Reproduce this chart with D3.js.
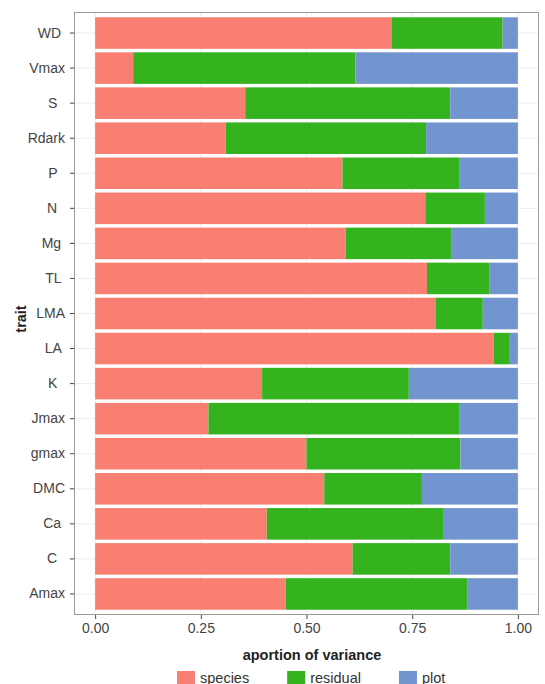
<!DOCTYPE html>
<html>
<head>
<meta charset="utf-8">
<script src="https://cdn.jsdelivr.net/npm/d3@7"></script>
<style>
  body { margin: 0; background: #fff; }
  text { font-family: "Liberation Sans", Arial, sans-serif; }
</style>
</head>
<body>
<div id="chart"></div>
<script>
// traits, top to bottom
var traits = ["WD", "Vmax", "S", "Rdark", "P", "N", "Mg", "TL", "LMA", "LA", "K", "Jmax", "gmax", "DMC", "Ca", "C", "Amax"];
// labels as printed (some carry trailing spaces)
var traitLabels = ["WD ", "Vmax", "S  ", "Rdark", "P  ", "N  ", "Mg ", "TL ", "LMA", "LA ", "K  ", "Jmax", "gmax", "DMC", "Ca ", "C  ", "Amax"];

var species  = [0.702, 0.090, 0.355, 0.309, 0.585, 0.781, 0.593, 0.785, 0.805, 0.943, 0.395, 0.268, 0.500, 0.542, 0.406, 0.609, 0.451];
var residual = [0.262, 0.526, 0.485, 0.474, 0.276, 0.141, 0.249, 0.147, 0.112, 0.036, 0.347, 0.593, 0.364, 0.231, 0.417, 0.231, 0.429];
var plot     = [0.036, 0.384, 0.160, 0.217, 0.139, 0.078, 0.158, 0.068, 0.083, 0.021, 0.258, 0.139, 0.136, 0.227, 0.177, 0.160, 0.120];

var components = ["species", "residual", "plot"];
var colors = ["#f97f72", "#34b31f", "#7295cf"];
var xTicks = [0, 0.25, 0.5, 0.75, 1];

var width = 545, height = 684;
var panel = { left: 74, right: 539, top: 12, bottom: 615 };

var svg = d3.select("#chart")
    .append("svg")
    .attr("width", width)
    .attr("height", height);

var rows = traits.map(function (t, i) {
    return { trait: t, species: species[i], residual: residual[i], plot: plot[i] };
});

var stack = d3.stack().keys(components)(rows);

// ggplot style: 5% expansion around [0,1]
var x = d3.scaleLinear()
    .domain([-0.05, 1.05])
    .range([panel.left, panel.right]);

var y = d3.scaleBand()
    .domain(traits)
    .range([panel.top, panel.bottom])
    .paddingInner(0.1)
    .paddingOuter(0.15);

var color = d3.scaleOrdinal().domain(components).range(colors);

// panel background + grid
svg.append("rect")
    .attr("x", panel.left)
    .attr("y", panel.top)
    .attr("width", panel.right - panel.left)
    .attr("height", panel.bottom - panel.top)
    .attr("fill", "#fff");

svg.append("g")
    .selectAll("line")
    .data(xTicks)
    .enter().append("line")
    .attr("x1", function (d) { return x(d); })
    .attr("x2", function (d) { return x(d); })
    .attr("y1", panel.top)
    .attr("y2", panel.bottom)
    .attr("stroke", "#ececec")
    .attr("stroke-width", 1);

svg.append("g")
    .selectAll("line")
    .data(traits)
    .enter().append("line")
    .attr("x1", panel.left)
    .attr("x2", panel.right)
    .attr("y1", function (d) { return y(d) + y.bandwidth() / 2; })
    .attr("y2", function (d) { return y(d) + y.bandwidth() / 2; })
    .attr("stroke", "#ececec")
    .attr("stroke-width", 1);

// bars
svg.append("g")
    .selectAll("g")
    .data(stack)
    .enter().append("g")
    .attr("fill", function (d) { return color(d.key); })
    .selectAll("rect")
    .data(function (d) { return d; })
    .enter().append("rect")
    .attr("x", function (d) { return x(d[0]); })
    .attr("y", function (d) { return y(d.data.trait); })
    .attr("width", function (d) { return x(d[1]) - x(d[0]); })
    .attr("height", y.bandwidth());

// panel border
svg.append("rect")
    .attr("x", panel.left + 0.5)
    .attr("y", panel.top + 0.5)
    .attr("width", panel.right - panel.left - 1)
    .attr("height", panel.bottom - panel.top - 1)
    .attr("fill", "none")
    .attr("stroke", "#9a9a9a")
    .attr("stroke-width", 1);

// x axis
var xAxis = svg.append("g")
    .attr("transform", "translate(0," + panel.bottom + ")")
    .call(d3.axisBottom(x).tickValues(xTicks).tickFormat(d3.format(".2f")).tickSize(4).tickPadding(4));
xAxis.select(".domain").remove();
xAxis.selectAll("line").attr("stroke", "#444");
xAxis.selectAll("text")
    .style("font-size", "14px")
    .attr("fill", "#444");

// y axis
var yAxis = svg.append("g")
    .attr("transform", "translate(" + panel.left + ",0)")
    .call(d3.axisLeft(y).tickSize(4).tickPadding(5)
        .tickFormat(function (d, i) { return traitLabels[traits.indexOf(d)]; }));
yAxis.select(".domain").remove();
yAxis.selectAll("line").attr("stroke", "#444");
yAxis.selectAll("text")
    .style("font-size", "14px")
    .style("white-space", "pre")
    .attr("fill", "#444");

// axis titles
svg.append("text")
    .attr("text-anchor", "middle")
    .style("font-size", "14.5px")
    .style("font-weight", "bold")
    .attr("x", 312)
    .attr("y", 660)
    .attr("fill", "#222")
    .text("aportion of variance");

svg.append("text")
    .attr("text-anchor", "middle")
    .style("font-size", "14.5px")
    .style("font-weight", "bold")
    .attr("transform", "translate(26,319) rotate(-90)")
    .attr("fill", "#222")
    .text("trait");

// legend
var legend = svg.append("g");
var lx = 177;
components.forEach(function (c) {
    legend.append("rect")
        .attr("x", lx)
        .attr("y", 671)
        .attr("width", 18)
        .attr("height", 18)
        .attr("fill", color(c));
    var t = legend.append("text")
        .attr("x", lx + 23)
        .attr("y", 683)
        .style("font-size", "14.5px")
        .attr("fill", "#333")
        .text(c);
    lx += 23 + t.node().getComputedTextLength() + 38;
});
</script>
</body>
</html>
